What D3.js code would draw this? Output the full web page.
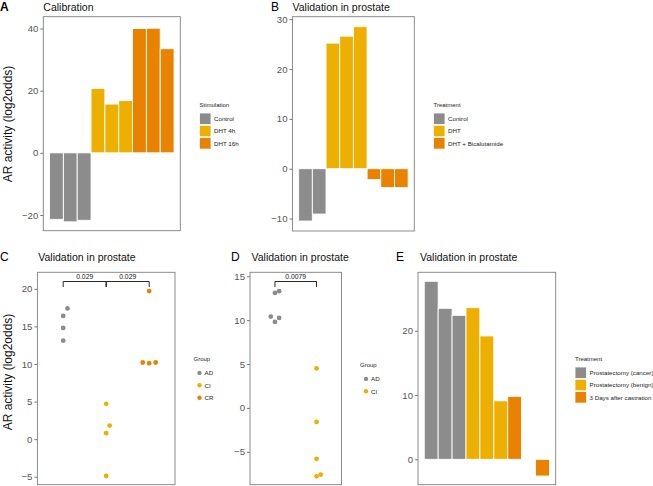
<!DOCTYPE html>
<html>
<head>
<meta charset="utf-8">
<script src="https://cdn.jsdelivr.net/npm/d3@7"></script>
<style>
  body { margin: 0; background: #fff; }
  svg { font-family: "Liberation Sans", Arial, sans-serif; }
</style>
</head>
<body>
<svg id="fig" width="653" height="486"></svg>
<script>
// colours shared by every panel
var grey = "#8c8c8c", yellow = "#eeb000", orange = "#e88200"

// A - calibration
var calibGroups = ["Control", "DHT 4h", "DHT 16h"]
var calibGroup = [0, 0, 0, 1, 1, 1, 2, 2, 2]
var calibValues = [-21.4, -22.2, -21.7, 20.7, 15.7, 16.8, 40.0, 40.1, 33.5]

// B - validation (treatment)
var treatGroups = ["Control", "DHT", "DHT + Bicalutamide"]
var treatGroup = [0, 0, 1, 1, 1, 2, 2, 2]
var treatValues = [-10.5, -9.1, 25.2, 26.6, 28.5, -2.2, -3.8, -3.8]

// C - groups AD / CI / CR
var cGroups = ["AD", "CI", "CR"]
var cGroup = [0, 0, 0, 0, 1, 1, 1, 1, 2, 2, 2, 2]
var cValues = [17.4, 16.4, 14.8, 13.1, 4.7, 1.8, 0.8, -4.9, 19.7, 10.2, 10.1, 10.2]
var cJitter = [0.1, 0, 0, 0, 0, 0.08, 0, 0, 0, -0.15, 0, 0.15]
var cPvals = [{from: 0, to: 1, p: "0.029"}, {from: 1, to: 2, p: "0.029"}]

// D - groups AD / CI
var dGroups = ["AD", "CI"]
var dGroup = [0, 0, 0, 0, 0, 1, 1, 1, 1, 1]
var dValues = [13.1, 13.3, 10.4, 10.25, 9.8, 4.5, -1.6, -5.8, -7.8, -7.6]
var dJitter = [0, 0.1, -0.1, 0.1, 0, 0, 0, 0, 0, 0.1]
var dPvals = [{from: 0, to: 1, p: "0.0079"}]

// E - prostatectomy / castration
var eGroups = ["Prostatectomy (cancer)", "Prostatectomy (benign)", "3 Days after castration"]
var eGroup = [0, 0, 0, 1, 1, 1, 2, 2, 2]
var eValues = [27.7, 23.5, 22.4, 23.6, 19.2, 9.1, 9.8, 0, -2.6]

var palette = [grey, yellow, orange]
var svg = d3.select("#fig")

function frame(box, ydom, ticks) {
  var g = svg.append("g")
  var y = d3.scaleLinear().domain(ydom).range([box.b, box.t])
  var ax = g.append("g")
    .attr("transform", "translate(" + box.l + ",0)")
    .call(d3.axisLeft(y).tickValues(ticks).tickSize(3).tickPadding(2).tickFormat(d => d < 0 ? "\u2212" + (-d) : d))
  ax.select(".domain").remove()
  ax.selectAll("line").attr("stroke", "#555").attr("stroke-width", 0.8)
  ax.selectAll("text").attr("fill", "#555").style("font-size", "9.6px")
  return {g: g, y: y}
}

function border(box) {
  svg.append("rect")
    .attr("x", box.l).attr("y", box.t)
    .attr("width", box.r - box.l).attr("height", box.b - box.t)
    .attr("fill", "none").attr("stroke", "#7f7f7f").attr("stroke-width", 0.9)
}

function title(x, y, tag, text, bold) {
  svg.append("text").attr("x", x.tag).attr("y", y)
    .style("font-size", "12px").style("font-weight", bold ? "bold" : "normal")
    .text(tag)
  svg.append("text").attr("x", x.text).attr("y", y)
    .style("font-size", "10.5px").attr("fill", "#111")
    .text(text)
}

function barPanel(box, groups, grp, vals, ydom, ticks) {
  var f = frame(box, ydom, ticks)
  var n = vals.length
  var x = d3.scaleLinear().domain([0.05, n + 0.95]).range([box.l, box.r])
  f.g.selectAll("rect.bar").data(vals).enter().append("rect")
    .attr("class", "bar")
    .attr("x", (d, i) => x(i + 0.5))
    .attr("width", (d, i) => x(i + 1.5) - x(i + 0.5))
    .attr("y", d => f.y(Math.max(0, d)))
    .attr("height", d => Math.abs(f.y(d) - f.y(0)))
    .attr("fill", (d, i) => palette[grp[i]])
    .attr("stroke", "#fff").attr("stroke-width", 0.9)
  border(box)
}

function dotPanel(box, groups, grp, vals, jit, pvals, ydom, ticks) {
  var f = frame(box, ydom, ticks)
  var x = d3.scaleLinear().domain([0.4, groups.length + 0.6]).range([box.l, box.r])
  f.g.selectAll("circle").data(vals).enter().append("circle")
    .attr("cx", (d, i) => x(grp[i] + 1 + jit[i]))
    .attr("cy", d => f.y(d))
    .attr("r", 2.4)
    .attr("fill", (d, i) => palette[grp[i]])
  // significance brackets
  var yb = box.t + 9.2
  pvals.forEach(function(p) {
    var x1 = x(p.from + 1), x2 = x(p.to + 1)
    f.g.append("path")
      .attr("d", "M" + x1 + "," + (yb + 5.5) + "V" + yb + "H" + x2 + "V" + (yb + 5.5))
      .attr("fill", "none").attr("stroke", "#111").attr("stroke-width", 0.9)
    f.g.append("text").attr("x", (x1 + x2) / 2).attr("y", yb - 2.5)
      .attr("text-anchor", "middle").style("font-size", "6.8px").attr("fill", "#111")
      .text(p.p)
  })
  border(box)
}

function squareLegend(x, y, name, groups) {
  var g = svg.append("g").attr("transform", "translate(" + x + "," + y + ")")
  g.append("text").attr("y", 0).style("font-size", "6px").attr("fill", "#222").text(name)
  groups.forEach(function(k, i) {
    var cy = 12.3 * (i + 1)
    g.append("rect").attr("x", 0).attr("y", cy - 5.8).attr("width", 11.5).attr("height", 11.5)
      .attr("fill", palette[i]).attr("stroke", "#fff").attr("stroke-width", 0.8)
    g.append("text").attr("x", 14.5).attr("y", cy + 2.2).style("font-size", "6.2px").attr("fill", "#222").text(k)
  })
}

function dotLegend(x, y, name, groups) {
  var g = svg.append("g").attr("transform", "translate(" + x + "," + y + ")")
  g.append("text").attr("y", 0).style("font-size", "6px").attr("fill", "#222").text(name)
  groups.forEach(function(k, i) {
    var cy = 12.4 * (i + 1)
    g.append("circle").attr("cx", 6).attr("cy", cy).attr("r", 2.2).attr("fill", palette[i])
    g.append("text").attr("x", 11).attr("y", cy + 2.2).style("font-size", "6.2px").attr("fill", "#222").text(k)
  })
}

function yLabel(x, y) {
  svg.append("text")
    .attr("transform", "translate(" + x + "," + y + ") rotate(-90)")
    .attr("text-anchor", "middle").style("font-size", "12px").attr("fill", "#111")
    .text("AR activity (log2odds)")
}

// top row
var boxA = {l: 43.3, r: 180.3, t: 16.7, b: 230.7}
var boxB = {l: 292.5, r: 414.3, t: 16.7, b: 231}
barPanel(boxA, calibGroups, calibGroup, calibValues, [-25.05, 43.8], [-20, 0, 20, 40])
barPanel(boxB, treatGroups, treatGroup, treatValues, [-12.5, 30.5], [-10, 0, 10, 20, 30])
squareLegend(199.5, 106.5, "Stimulation", calibGroups)
squareLegend(433.5, 106.5, "Treatment", treatGroups)
title({tag: 0, text: 43.3}, 10.5, "A", "Calibration", true)
title({tag: 271, text: 292.5}, 10.5, "B", "Validation in prostate", false)
yLabel(12, 124)

// bottom row
var boxC = {l: 37.4, r: 175, t: 272.3, b: 484.7}
var boxD = {l: 250, r: 341.5, t: 272.3, b: 484.7}
var boxE = {l: 418, r: 555.7, t: 272.3, b: 484.7}
dotPanel(boxC, cGroups, cGroup, cValues, cJitter, cPvals, [-6.06, 22.2], [-5, 0, 5, 10, 15, 20])
dotPanel(boxD, dGroups, dGroup, dValues, dJitter, dPvals, [-8.75, 15.45], [-5, 0, 5, 10, 15])
barPanel(boxE, eGroups, eGroup, eValues, [-3.95, 29.1], [0, 10, 20])
dotLegend(193.5, 360.5, "Group", cGroups)
dotLegend(360, 366.5, "Group", dGroups)
squareLegend(575, 360.5, "Treatment", eGroups)
title({tag: 0, text: 38.3}, 260.5, "C", "Validation in prostate", false)
title({tag: 231, text: 251.5}, 260.5, "D", "Validation in prostate", false)
title({tag: 396, text: 420}, 260.5, "E", "Validation in prostate", false)
yLabel(12, 372)
</script>
</body>
</html>
